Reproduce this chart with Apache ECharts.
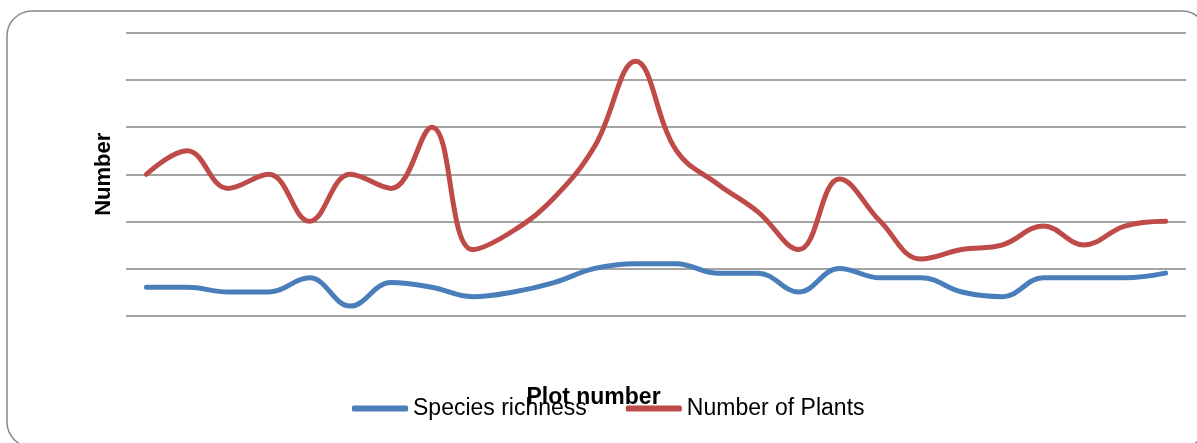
<!DOCTYPE html>
<html>
<head>
<meta charset="utf-8">
<script src="https://cdn.jsdelivr.net/npm/echarts@6/dist/echarts.min.js"></script>
<style>
html,body{margin:0;padding:0;background:#fff;}
#c{width:1197px;height:443px;}
</style>
</head>
<body>
<div id="c"></div>
<script>
const plots = ['1','2','3','4','5','6','7','8','9','10','11','12','13','14','15','16','17','18','19','20','21','22','23','24','25','26'];
const speciesRichness = [6,6,5,5,8,2,7,6,4,5,7,10,11,11,9,9,5,10,8,8,5,4,8,8,8,9];
const numberOfPlants = [30,35,27,30,20,30,27,40,14,18,25,36,54,35,28,22,14,29,20,12,14,15,19,15,19,20];

const FONT = '"Liberation Sans", Arial, sans-serif';
const chart = echarts.init(document.getElementById('c'), null, {renderer:'canvas'});
chart.setOption({
  animation:false,
  backgroundColor:'#fff',
  grid:{left:126, right:11, top:33, bottom:127.5, containLabel:false},
  xAxis:{
    type:'category', data:plots, boundaryGap:true,
    axisLine:{show:false}, axisTick:{show:false}, axisLabel:{show:false}, splitLine:{show:false}
  },
  yAxis:{
    type:'value', min:0, max:60, interval:10,
    axisLine:{show:false}, axisTick:{show:false}, axisLabel:{show:false},
    splitLine:{show:true, lineStyle:{color:'#868686', width:1.5}},
    name:'Number', nameLocation:'middle', nameRotate:90, nameGap:11,
    nameTextStyle:{fontFamily:FONT, fontWeight:'bold', fontSize:22, color:'#000'}
  },
  legend:{
    left:352, top:397, padding:0, itemWidth:56, itemHeight:6, itemGap:39, icon:'roundRect',
    textStyle:{fontFamily:FONT, fontSize:23, color:'#000'},
    data:['Species richness','Number of Plants']
  },
  graphic:[
    {type:'rect', shape:{x:7, y:11, width:1200, height:436, r:25}, style:{fill:'none', stroke:'#888', lineWidth:1.5}, silent:true},
    {type:'text', x:593.5, y:398, style:{text:'Plot number', fontFamily:FONT, fontWeight:'bold', fontSize:23, fill:'#000', textAlign:'center', textVerticalAlign:'middle'}, z:1}
  ],
  series:[
    {name:'Species richness', type:'line', data:speciesRichness, smooth:0.4, symbol:'none', z:3,
      lineStyle:{color:'#4a7ebb', width:5, cap:'round'}, itemStyle:{color:'#4a7ebb'}},
    {name:'Number of Plants', type:'line', data:numberOfPlants, smooth:0.4, symbol:'none', z:3,
      lineStyle:{color:'#be4b48', width:5, cap:'round'}, itemStyle:{color:'#be4b48'}}
  ]
});
</script>
</body>
</html>
